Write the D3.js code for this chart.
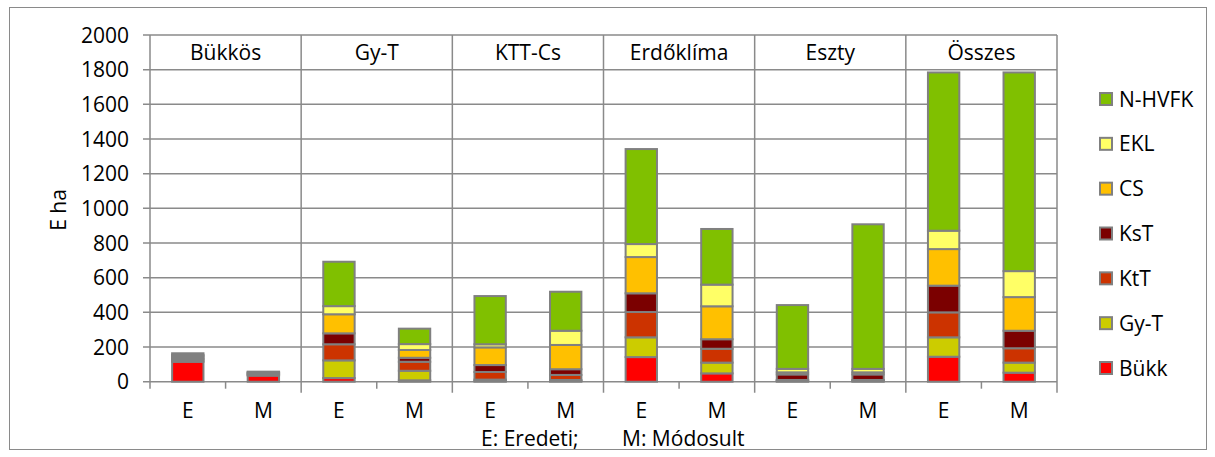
<!DOCTYPE html>
<html>
<head>
<meta charset="utf-8">
<script src="https://cdn.jsdelivr.net/npm/d3@7"></script>
<style>
  html, body { margin: 0; padding: 0; background: #fff; }
  svg text { font-family: "Open Sans", sans-serif; fill: #000; }
</style>
</head>
<body>
<svg id="chart" width="1215" height="457"></svg>
<script>
// ---- data ----
const groups = ["Bükkös", "Gy-T", "KTT-Cs", "Erdőklíma", "Eszty", "Összes"];
const subs = ["E", "M"];
const seriesNames = ["Bükk", "Gy-T", "KtT", "KsT", "CS", "EKL", "N-HVFK"];
const seriesColors = ["#ff0000", "#cccc00", "#cc3300", "#7b0000", "#ffc000", "#ffff66", "#80c000"];
// values per bar: Bükkös E, M, Gy-T E, M, KTT-Cs E, M, Erdőklíma E, M, Eszty E, M, Összes E, M
const bukk  = [115, 35, 21,  8,   4,   4, 142,  48,   3,   3, 144,   52];
const gyt   = [  8,  4, 102, 55,  8,   6, 114,  62,   3,   3, 112,   58];
const ktt   = [  8,  4, 93,  52, 44,  29, 146,  80,   4,   4, 144,   83];
const kst   = [  8,  4, 63,  23, 40,  33, 108,  55,  32,  32, 154,  101];
const cs    = [  8,  4, 110, 45, 102, 140, 209, 190, 12,  12, 211,  194];
const ekl   = [  8,  4, 47,  34, 18,  82,  75, 125,  20,  20, 106,  150];
const nhvfk = [  9,  3, 256, 89, 278, 225, 548, 321, 368, 834, 913, 1146];
const yTicks = [0, 200, 400, 600, 800, 1000, 1200, 1400, 1600, 1800, 2000];
const yTitle = "E ha";
const footnote = ["E: Eredeti;", "M: Módosult"];

const seriesValues = [bukk, gyt, ktt, kst, cs, ekl, nhvfk];
const bars = [];
groups.forEach(g => subs.forEach(s => bars.push({ key: g + "|" + s, group: g, sub: s })));
const table = bars.map((b, i) => {
  const row = { key: b.key };
  seriesNames.forEach((n, j) => row[n] = seriesValues[j][i]);
  return row;
});

// ---- layout ----
const svg = d3.select("#chart");
const pLeft = 150, pRight = 1057, pTop = 35, pBottom = 381.7;
const gridColor = "#8a8a8a";
const fontSize = 21;

svg.append("rect").attr("x", 9.5).attr("y", 7.5).attr("width", 1197).attr("height", 442)
  .attr("fill", "#fff").attr("stroke", gridColor).attr("stroke-width", 1);

const x = d3.scaleBand().domain(bars.map(b => b.key)).range([pLeft, pRight]).padding(0);
const xg = d3.scaleBand().domain(groups).range([pLeft, pRight]).padding(0);
const y = d3.scaleLinear().domain([0, 2000]).range([pBottom, pTop]);

// gridlines
svg.append("g").selectAll("line").data(yTicks).join("line")
  .attr("x1", pLeft - 7).attr("x2", pRight)
  .attr("y1", d => y(d)).attr("y2", d => y(d))
  .attr("stroke", gridColor).attr("stroke-width", 1.5);

// y axis line
svg.append("line").attr("x1", pLeft).attr("x2", pLeft).attr("y1", pTop).attr("y2", pBottom + 7)
  .attr("stroke", gridColor).attr("stroke-width", 1.5);

// y tick labels
svg.append("g").selectAll("text").data(yTicks).join("text")
  .attr("x", 129).attr("y", d => y(d)).attr("dy", "0.36em")
  .attr("text-anchor", "end").attr("font-size", fontSize).text(d => d);

// group separators
svg.append("g").selectAll("line").data(groups).join("line")
  .attr("x1", d => xg(d) + xg.bandwidth()).attr("x2", d => xg(d) + xg.bandwidth())
  .attr("y1", pTop).attr("y2", pBottom + 11)
  .attr("stroke", gridColor).attr("stroke-width", 1.5);

// minor ticks between E and M
svg.append("g").selectAll("line").data(groups).join("line")
  .attr("x1", d => xg(d) + xg.bandwidth() / 2).attr("x2", d => xg(d) + xg.bandwidth() / 2)
  .attr("y1", pBottom).attr("y2", pBottom + 7)
  .attr("stroke", gridColor).attr("stroke-width", 1.5);

// group labels
svg.append("g").selectAll("text").data(groups).join("text")
  .attr("x", d => xg(d) + xg.bandwidth() / 2).attr("y", (y(2000) + y(1800)) / 2).attr("dy", "0.36em")
  .attr("text-anchor", "middle").attr("font-size", fontSize).text(d => d);

// stacked bars
const stack = d3.stack().keys(seriesNames)(table);
const bw = x.bandwidth() * 0.415;
const layer = svg.append("g").selectAll("g").data(stack).join("g")
  .attr("fill", (d, i) => seriesColors[i]);
layer.selectAll("rect").data(d => d).join("rect")
  .attr("x", d => x(d.data.key) + (x.bandwidth() - bw) / 2)
  .attr("width", bw)
  .attr("y", d => y(d[1]))
  .attr("height", d => y(d[0]) - y(d[1]))
  .attr("stroke", "#808080").attr("stroke-width", 2);

// x labels
svg.append("g").selectAll("text").data(bars).join("text")
  .attr("x", d => x(d.key) + x.bandwidth() / 2).attr("y", 410).attr("dy", "0.36em")
  .attr("text-anchor", "middle").attr("font-size", fontSize).text(d => d.sub);

// footnote
svg.append("text").attr("x", 481).attr("y", 438).attr("dy", "0.36em")
  .attr("font-size", fontSize).text(footnote[0]);
svg.append("text").attr("x", 622).attr("y", 438).attr("dy", "0.36em")
  .attr("font-size", fontSize).text(footnote[1]);

// y title
svg.append("text").attr("transform", "translate(58,210) rotate(-90)")
  .attr("text-anchor", "middle").attr("dy", "0.36em").attr("font-size", fontSize).text(yTitle);

// legend
const legendOrder = seriesNames.map((n, i) => ({ name: n, color: seriesColors[i] })).reverse();
const ly = d3.scalePoint().domain(legendOrder.map(d => d.name)).range([99, 368]);
const lg = svg.append("g").selectAll("g").data(legendOrder).join("g")
  .attr("transform", d => `translate(1100,${ly(d.name)})`);
lg.append("rect").attr("x", 0).attr("y", -6).attr("width", 12).attr("height", 12)
  .attr("fill", d => d.color).attr("stroke", "#808080").attr("stroke-width", 2);
lg.append("text").attr("x", 19).attr("y", 0).attr("dy", "0.36em")
  .attr("font-size", fontSize).text(d => d.name);
</script>
</body>
</html>
